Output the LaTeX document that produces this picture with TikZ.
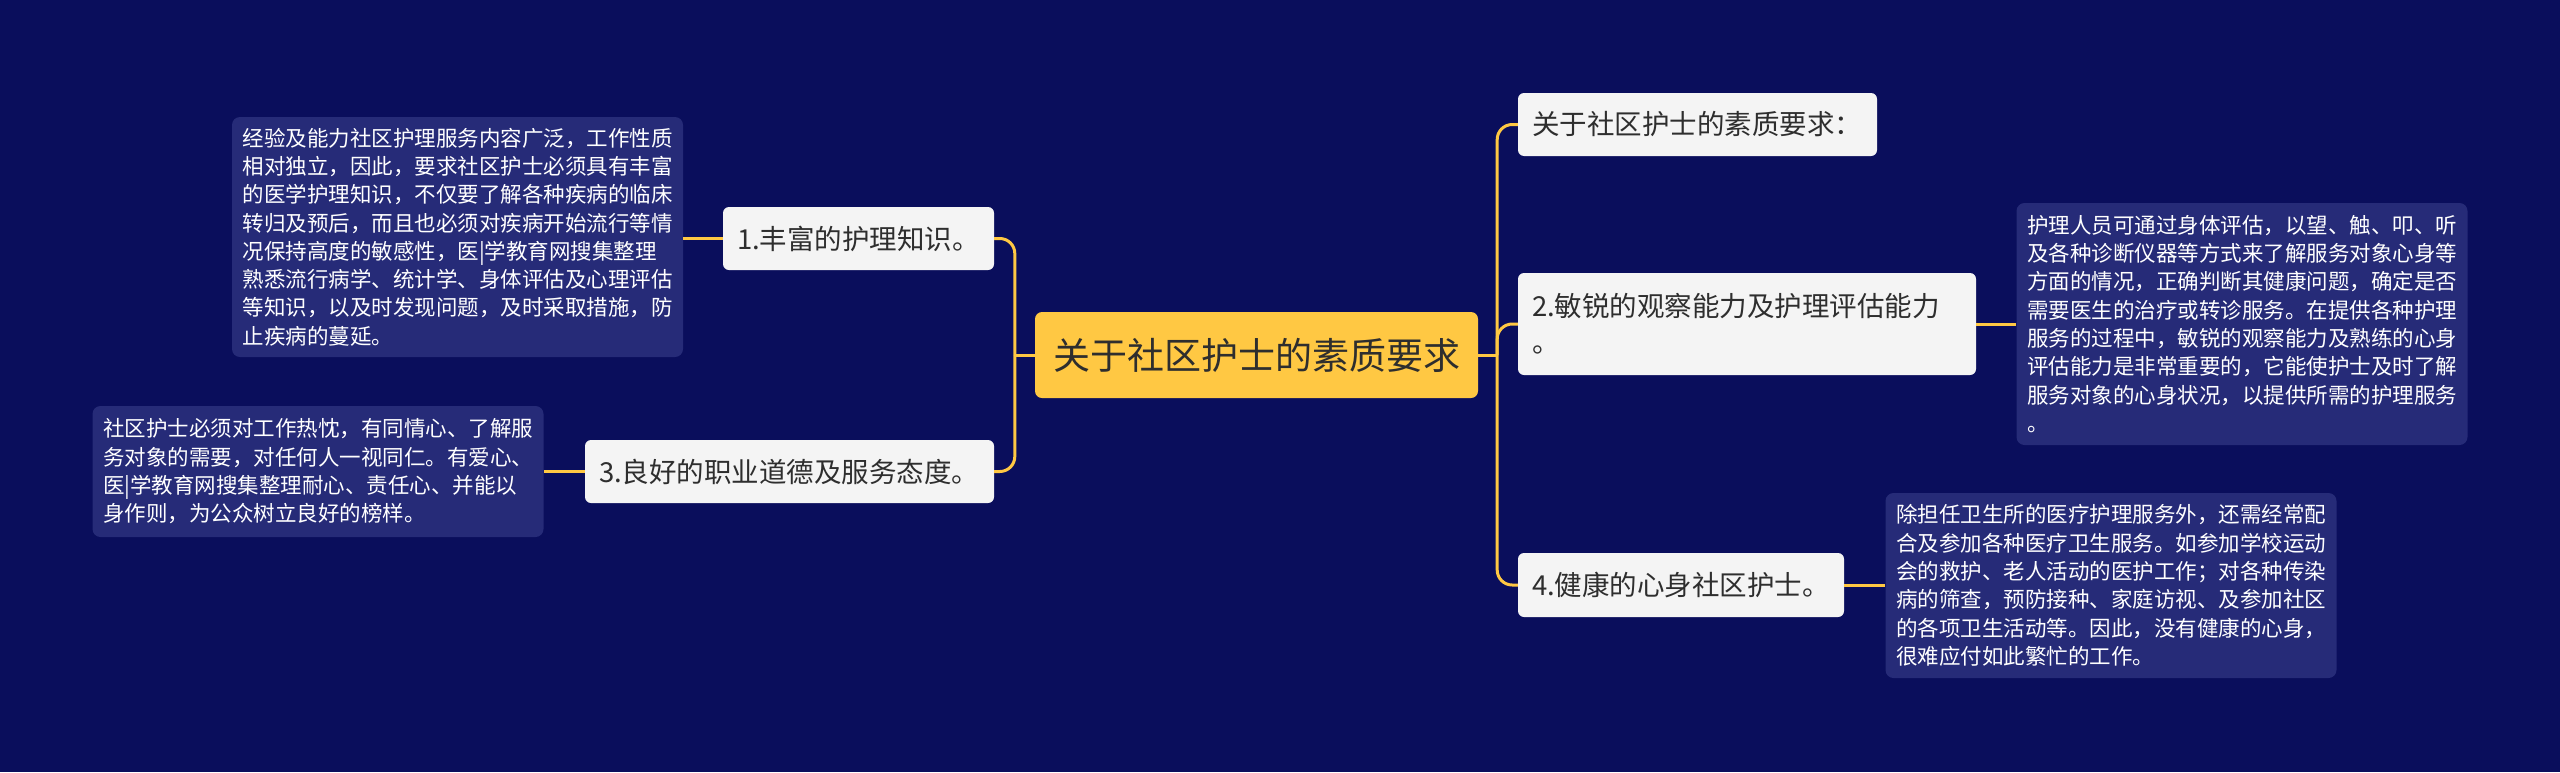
\documentclass[tikz,border=0pt]{standalone}
\usepackage{fontspec}
\setmainfont{Noto Sans CJK SC}
\usetikzlibrary{positioning}

\definecolor{bgnavy}{HTML}{0A0E5C}
\definecolor{notebox}{HTML}{262B78}
\definecolor{linkyellow}{HTML}{FFC843}
\definecolor{itemgray}{HTML}{F4F4F4}
\definecolor{itemtext}{HTML}{2E2E2E}

\begin{document}
\begin{tikzpicture}[x=1pt, y=-1pt,
  link/.style={draw=linkyellow, line width=3pt},
  topic/.style={fill=linkyellow, rounded corners=7pt, text=itemtext, align=center,
    inner sep=0pt, font=\fontsize{37}{44}\selectfont},
  item/.style={fill=itemgray, rounded corners=6pt, text=itemtext, align=left,
    inner xsep=14pt, inner ysep=0pt, font=\fontsize{27.5}{36}\selectfont},
  note/.style={fill=notebox, rounded corners=8pt, text=white, align=left,
    inner xsep=10.5pt, inner ysep=0pt, text width=430pt, font=\fontsize{21.5}{28.3}\selectfont}]

% background and page size
\fill[bgnavy] (0,0) rectangle (2560,772);
\useasboundingbox (0,0) rectangle (2560,772);

% ========== Centre topic ==========
\node[topic, minimum width=443pt, minimum height=86pt] (root) at (1256.5,355) {关于社区护士的素质要求};

% ========== Left side ==========
\node[item, text width=243pt, minimum height=63pt] (know) at (858.5,238.5) {1.丰富的护理知识。};
\node[item, text width=381pt, minimum height=63pt] (ethic) at (789.5,471.5) {3.良好的职业道德及服务态度。};

% notes on the left
\node[note, minimum height=240pt] (knowNote) at (457.5,237) {
经验及能力社区护理服务内容广泛，工作性质\\
相对独立，因此，要求社区护士必须具有丰富\\
的医学护理知识，不仅要了解各种疾病的临床\\
转归及预后，而且也必须对疾病开始流行等情\\
况保持高度的敏感性，医|学教育网搜集整理\\
熟悉流行病学、统计学、身体评估及心理评估\\
等知识，以及时发现问题，及时采取措施，防\\
止疾病的蔓延。};
\node[note, minimum height=131pt] (ethicNote) at (318,471.5) {
社区护士必须对工作热忱，有同情心、了解服\\
务对象的需要，对任何人一视同仁。有爱心、\\
医|学教育网搜集整理耐心、责任心、并能以\\
身作则，为公众树立良好的榜样。};

% ========== Right side ==========
\node[item, text width=331pt, minimum height=63pt] (intro) at (1697.5,124.5) {关于社区护士的素质要求：};
\node[item, text width=430pt, minimum height=102pt] (observe) at (1747,324) {2.敏锐的观察能力及护理评估能力\\。};
\node[item, text width=298pt, minimum height=64pt] (health) at (1681,585) {4.健康的心身社区护士。};

% notes on the right
\node[note, minimum height=242pt] (observeNote) at (2242,324) {
护理人员可通过身体评估，以望、触、叩、听\\
及各种诊断仪器等方式来了解服务对象心身等\\
方面的情况，正确判断其健康问题，确定是否\\
需要医生的治疗或转诊服务。在提供各种护理\\
服务的过程中，敏锐的观察能力及熟练的心身\\
评估能力是非常重要的，它能使护士及时了解\\
服务对象的心身状况，以提供所需的护理服务\\
。};
\node[note, minimum height=185pt] (healthNote) at (2111,585.5) {
除担任卫生所的医疗护理服务外，还需经常配\\
合及参加各种医疗卫生服务。如参加学校运动\\
会的救护、老人活动的医护工作；对各种传染\\
病的筛查，预防接种、家庭访视、及参加社区\\
的各项卫生活动等。因此，没有健康的心身，\\
很难应付如此繁忙的工作。};

% ========== Connectors ==========
\draw[link] (root.west) -- ++(-20,0) coordinate (ltrunk);
\draw[link, rounded corners=15pt] (ltrunk) |- (know.east);
\draw[link, rounded corners=15pt] (ltrunk) |- (ethic.east);
\draw[link] (know.west) -- (know.west -| knowNote.east);
\draw[link] (ethic.west) -- (ethic.west -| ethicNote.east);

\draw[link] (root.east) -- ++(19,0) coordinate (rtrunk);
\draw[link, rounded corners=15pt] (rtrunk) |- (intro.west);
\draw[link, rounded corners=15pt] (rtrunk) |- (observe.west);
\draw[link, rounded corners=15pt] (rtrunk) |- (health.west);
\draw[link] (observe.east) -- (observe.east -| observeNote.west);
\draw[link] (health.east) -- (health.east -| healthNote.west);

\end{tikzpicture}
\end{document}
